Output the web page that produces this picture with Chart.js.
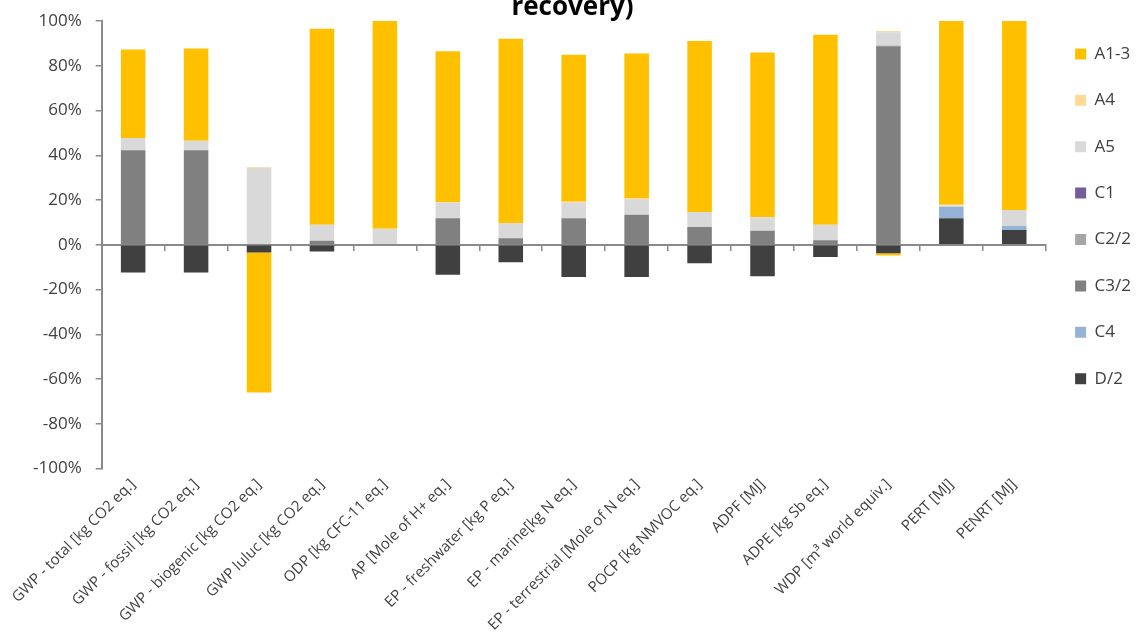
<!DOCTYPE html>
<html>
<head>
<meta charset="utf-8">
<script src="https://cdn.jsdelivr.net/npm/chart.js"></script>
<style>
  body { margin: 0; background: #fff; }
  #wrap { width: 1145px; height: 641px; position: relative; }
</style>
</head>
<body>
<div id="wrap"><canvas id="chart"></canvas></div>
<script>
const categories = [
  'GWP - total [kg CO2 eq.]',
  'GWP - fossil [kg CO2 eq.]',
  'GWP - biogenic [kg CO2 eq.]',
  'GWP luluc [kg CO2 eq.]',
  'ODP [kg CFC-11 eq.]',
  'AP [Mole of H+ eq.]',
  'EP - freshwater [kg P eq.]',
  'EP - marine[kg N eq.]',
  'EP - terrestrial [Mole of N eq.]',
  'POCP [kg NMVOC eq.]',
  'ADPF [MJ]',
  'ADPE [kg Sb eq.]',
  'WDP [m³ world equiv.]',
  'PERT [MJ]',
  'PENRT [MJ]',
]

// shares in %, one value per category
const a13 = [39.6, 41.2, -62.6, 87.5, 92.8, 67.4, 82.5, 65.7, 64.8, 76.4, 73.6, 84.9, -1.0, 82.1, 84.4]
const a4 = [0, 0, 0.4, 0, 0, 0.3, 0, 0.3, 0.3, 0, 0, 0, 0.5, 0.3, 0]
const a5 = [5.5, 4.3, 34.4, 7.2, 7.2, 6.9, 6.7, 7.0, 7.0, 6.6, 6.0, 6.9, 6.0, 0.6, 7.2]
const c1 = [0, 0, 0, 0, 0, 0, 0, 0, 0, 0, 0, 0, 0, 0, 0]
const c22 = [0, 0, 0, 0, 0, 0, 0, 0, 0, 0, 0, 0, 0.3, 0, 0]
const c32 = [42.2, 42.2, 0, 1.8, 0, 11.9, 2.9, 11.9, 13.4, 8.0, 6.3, 2.0, 88.7, 0, 0]
const c4 = [0, 0, 0, 0, 0, 0, 0, 0, 0, 0, 0, 0, 0, 5.1, 1.8]
const d2 = [-12.4, -12.4, -3.4, -3.0, 0, -13.4, -7.8, -14.4, -14.4, -8.3, -14.0, -5.4, -3.8, 11.9, 6.6]

const yTicks = [-100, -80, -60, -40, -20, 0, 20, 40, 60, 80, 100]

const textColor = '#404040'
const axisColor = '#8a8a8a'

// stacked from the zero line outwards, legend shown reversed
const series = [
  { label: 'D/2', data: d2, color: '#404040' },
  { label: 'C4', data: c4, color: '#95b3d7' },
  { label: 'C3/2', data: c32, color: '#808080' },
  { label: 'C2/2', data: c22, color: '#a6a6a6' },
  { label: 'C1', data: c1, color: '#735c9c' },
  { label: 'A5', data: a5, color: '#d9d9d9' },
  { label: 'A4', data: a4, color: '#ffd998' },
  { label: 'A1-3', data: a13, color: '#ffc000' },
]

const titlePlugin = {
  id: 'clippedTitle',
  afterDraw(chart) {
    const ctx = chart.ctx
    ctx.save()
    ctx.font = 'bold 26px "Open Sans"'
    ctx.fillStyle = '#000'
    ctx.textAlign = 'center'
    ctx.textBaseline = 'alphabetic'
    ctx.fillText('recovery)', chart.width / 2, 15)
    ctx.restore()
  },
}

new Chart(document.getElementById('chart'), {
  type: 'bar',
  data: {
    labels: categories,
    datasets: series.map((s) => ({
      label: s.label,
      data: s.data,
      backgroundColor: s.color,
      borderWidth: 0,
      categoryPercentage: 1,
      barPercentage: 0.39,
    })),
  },
  plugins: [titlePlugin],
  options: {
    responsive: true,
    maintainAspectRatio: false,
    animation: false,
    layout: {
      padding: { top: 16, left: 19, right: 4, bottom: 0 },
    },
    plugins: {
      title: { display: false },
      tooltip: { enabled: false },
      legend: {
        position: 'right',
        align: 'start',
        reverse: true,
        labels: {
          boxWidth: 11,
          boxHeight: 11,
          padding: 29.4,
          color: textColor,
          font: { family: 'Open Sans', size: 17 },
        },
      },
    },
    scales: {
      x: {
        stacked: true,
        grid: { display: false, drawTicks: false },
        border: { display: false },
        ticks: {
          autoSkip: false,
          minRotation: 45,
          maxRotation: 45,
          padding: 7,
          color: textColor,
          font: { family: 'Open Sans', size: 15 },
        },
      },
      x2: {
        type: 'category',
        position: { y: 0 },
        offset: true,
        z: 1,
        grid: {
          offset: true,
          drawOnChartArea: false,
          tickLength: 5,
          color: axisColor,
          lineWidth: 1.5,
        },
        border: { color: axisColor, width: 2 },
        ticks: { display: false },
      },
      y: {
        stacked: true,
        min: -100,
        max: 100,
        afterBuildTicks: (scale) => {
          scale.ticks = yTicks.map((v) => ({ value: v }))
        },
        grid: {
          drawOnChartArea: false,
          tickLength: 6,
          color: axisColor,
          lineWidth: 1.5,
        },
        border: { color: axisColor, width: 2 },
        ticks: {
          autoSkip: false,
          padding: 14,
          color: textColor,
          font: { family: 'Open Sans', size: 17, lineHeight: 0.82 },
          callback: (value) => `${value}%`,
        },
      },
    },
  },
})
</script>
</body>
</html>
